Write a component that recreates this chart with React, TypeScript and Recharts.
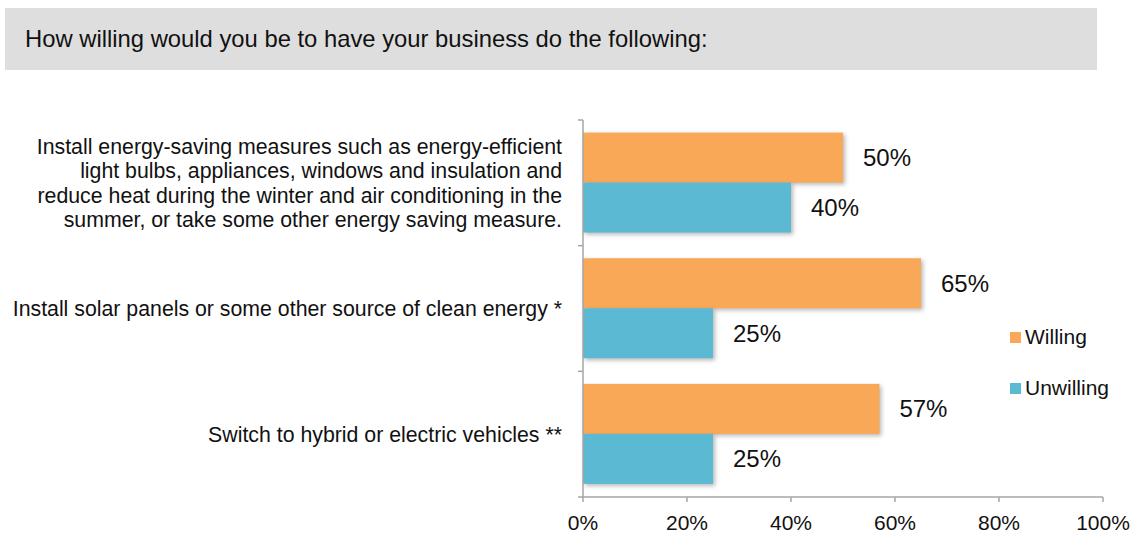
import React from "react";
import { BarChart, Bar, XAxis, YAxis, LabelList } from "recharts";

const titleText = "How willing would you be to have your business do the following:";
const categoryLines: string[][] = [
  [
    "Install energy-saving measures such as energy-efficient",
    "light bulbs, appliances, windows and insulation and",
    "reduce heat during the winter and air conditioning in the",
    "summer, or take some other energy saving measure.",
  ],
  ["Install solar panels or some other source of clean energy *"],
  ["Switch to hybrid or electric vehicles **"],
];
const categories = ["energy", "solar", "vehicles"];
const willing = [50, 65, 57];
const unwilling = [40, 25, 25];
const xTicks = [0, 20, 40, 60, 80, 100];
const seriesNames = ["Willing", "Unwilling"];
const seriesColors = ["#F9A857", "#5BB9D4"];

const data = categories.map((c, i) => ({
  name: c,
  willing: willing[i],
  unwilling: unwilling[i],
}));

const FONT = "'Liberation Sans', Arial, Helvetica, sans-serif";
const AXIS = "#A6A6A6";
const BAND = (497 - 120) / 3;

const YTick = (props: any) => {
  const { x, y, index } = props;
  const lines: string[] = categoryLines[index] || [];
  const lh = 24.5;
  const n = lines.length;
  return (
    <g>
      <line x1={x - 5} x2={x} y1={y - BAND / 2} y2={y - BAND / 2} stroke={AXIS} strokeWidth={1.5} />
      {index === categories.length - 1 && (
        <line x1={x - 5} x2={x} y1={y + BAND / 2} y2={y + BAND / 2} stroke={AXIS} strokeWidth={1.5} />
      )}
      {lines.map((l, i) => (
        <text
          key={i}
          x={x - 21}
          y={y + (i - (n - 1) / 2) * lh}
          dy="0.36em"
          textAnchor="end"
          fontSize={21.3}
          fill="#111"
          fontFamily={FONT}
        >
          {l}
        </text>
      ))}
    </g>
  );
};

const ShadowBar = (props: any) => {
  const { x, y, width, height, fill } = props;
  if (!width || width <= 0) return null;
  return (
    <rect
      x={x}
      y={y}
      width={width}
      height={height}
      fill={fill}
      style={{ filter: "drop-shadow(2px 2px 2px rgba(0,0,0,0.28))" }}
    />
  );
};

export default function App() {
  return (
    <div
      style={{
        position: "absolute",
        left: 0,
        top: 0,
        width: 1136,
        height: 535,
        background: "#fff",
        fontFamily: FONT,
      }}
    >
      <div
        style={{
          position: "absolute",
          left: 5,
          top: 8,
          width: 1092,
          height: 62,
          background: "#DEDEDE",
          boxSizing: "border-box",
          paddingLeft: 20,
          lineHeight: "62px",
          fontSize: 23.8,
          color: "#111",
        }}
      >
        {titleText}
      </div>
      <div style={{ position: "absolute", left: 0, top: 0 }}>
        <BarChart
          width={1136}
          height={535}
          data={data}
          layout="vertical"
          margin={{ top: 120, right: 33, bottom: 0, left: 0 }}
          barCategoryGap="10%"
          barGap={0}
        >
          <XAxis
            type="number"
            domain={[0, 100]}
            ticks={xTicks}
            tickFormatter={(v: number) => `${v}%`}
            height={38}
            axisLine={{ stroke: AXIS, strokeWidth: 1.5 }}
            tickLine={{ stroke: AXIS, strokeWidth: 1.5 }}
            tickSize={5}
            tickMargin={13}
            tick={{ fontSize: 21, fill: "#111", fontFamily: FONT }}
            interval={0}
          />
          <YAxis
            type="category"
            dataKey="name"
            width={583}
            axisLine={{ stroke: AXIS, strokeWidth: 1.5 }}
            tickLine={false}
            tickSize={0}
            tickMargin={0}
            tick={<YTick />}
            interval={0}
          />
          <Bar
            dataKey="willing"
            name={seriesNames[0]}
            fill={seriesColors[0]}
            isAnimationActive={false}
            shape={<ShadowBar />}
          >
            <LabelList
              dataKey="willing"
              position="right"
              offset={20}
              formatter={(v: any) => `${v}%`}
              style={{ fontSize: 24, fill: "#111", fontFamily: FONT }}
            />
          </Bar>
          <Bar
            dataKey="unwilling"
            name={seriesNames[1]}
            fill={seriesColors[1]}
            isAnimationActive={false}
            shape={<ShadowBar />}
          >
            <LabelList
              dataKey="unwilling"
              position="right"
              offset={20}
              formatter={(v: any) => `${v}%`}
              style={{ fontSize: 24, fill: "#111", fontFamily: FONT }}
            />
          </Bar>
        </BarChart>
      </div>
      {seriesNames.map((n, i) => (
        <div
          key={n}
          style={{
            position: "absolute",
            left: 1010,
            top: 325 + i * 51,
            height: 24,
            display: "flex",
            alignItems: "center",
            fontSize: 21,
            color: "#111",
          }}
        >
          <span
            style={{
              display: "inline-block",
              width: 11,
              height: 11,
              background: seriesColors[i],
              marginRight: 4,
            }}
          />
          {n}
        </div>
      ))}
    </div>
  );
}
